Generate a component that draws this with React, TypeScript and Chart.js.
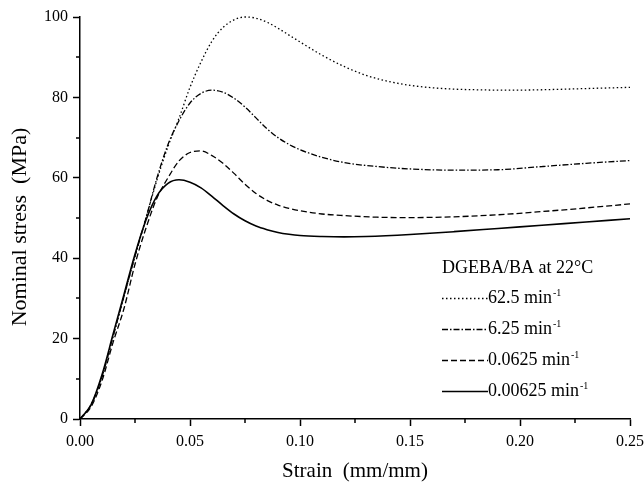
import React, { useEffect, useRef } from "react";
import { Chart, registerables } from "chart.js";

Chart.register(...registerables);

// ---- data ----
const strain62_5 = [0, 0.005, 0.01, 0.015, 0.02, 0.025, 0.03, 0.035, 0.04, 0.045, 0.05, 0.055, 0.06, 0.065, 0.07, 0.075, 0.08, 0.085, 0.09, 0.095, 0.1, 0.11, 0.12, 0.13, 0.14, 0.15, 0.165, 0.18, 0.195, 0.21, 0.23, 0.25];
const stress62_5 = [0, 3.5, 10.5, 20.5, 30.5, 40.5, 50, 59.5, 67.8, 74.8, 82.5, 88.8, 94.0, 97.4, 99.3, 100, 99.7, 98.7, 97.2, 95.5, 93.8, 90.5, 87.7, 85.5, 84.0, 83.0, 82.2, 81.9, 81.8, 81.9, 82.2, 82.5];

const strain6_25 = [0, 0.005, 0.01, 0.015, 0.02, 0.025, 0.03, 0.035, 0.04, 0.045, 0.05, 0.055, 0.06, 0.065, 0.07, 0.075, 0.08, 0.085, 0.09, 0.095, 0.1, 0.11, 0.12, 0.135, 0.15, 0.17, 0.19, 0.21, 0.23, 0.25];
const stress6_25 = [0, 3.5, 10.5, 20.5, 30.5, 40.5, 50, 60, 68.3, 74.2, 78.6, 81.0, 81.8, 81.3, 79.8, 77.6, 74.9, 72.2, 70.0, 68.3, 67.0, 65.1, 63.8, 62.8, 62.2, 61.9, 62.0, 62.8, 63.6, 64.3];

const strain0_0625 = [0, 0.005, 0.01, 0.015, 0.02, 0.025, 0.03, 0.035, 0.04, 0.045, 0.05, 0.055, 0.06, 0.065, 0.07, 0.075, 0.08, 0.085, 0.09, 0.095, 0.1, 0.11, 0.12, 0.135, 0.15, 0.17, 0.19, 0.21, 0.23, 0.25];
const stress0_0625 = [0, 3, 9.5, 19, 27.5, 38.5, 47.5, 55, 60, 64.2, 66.3, 66.7, 65.5, 63.6, 61.1, 58.4, 56.1, 54.4, 53.2, 52.4, 51.8, 51.0, 50.6, 50.2, 50.1, 50.3, 50.8, 51.6, 52.5, 53.5];

const strain0_00625 = [0, 0.005, 0.01, 0.015, 0.02, 0.025, 0.03, 0.035, 0.04, 0.045, 0.05, 0.055, 0.06, 0.065, 0.07, 0.075, 0.08, 0.085, 0.09, 0.095, 0.1, 0.11, 0.12, 0.13, 0.15, 0.17, 0.19, 0.21, 0.23, 0.25];
const stress0_00625 = [0, 3.5, 11, 21, 31, 41, 49.5, 55.5, 58.6, 59.5, 58.9, 57.5, 55.4, 53.1, 51.0, 49.3, 48.0, 47.1, 46.4, 45.95, 45.65, 45.4, 45.3, 45.4, 45.9, 46.6, 47.4, 48.2, 49.0, 49.8];

const legendTitle = "DGEBA/BA at 22°C";
const legendRates = ["62.5", "6.25", "0.0625", "0.00625"];
const xMinorTicks = [0.025, 0.075, 0.125, 0.175, 0.225];
const yMinorTicks = [10, 30, 50, 70, 90];
const xTitle = "Strain  (mm/mm)";
const yTitle = "Nominal stress  (MPa)";

const SERIF = '"Liberation Serif", "Times New Roman", serif';

const toPoints = (xs: number[], ys: number[]) => xs.map((x, i) => ({ x, y: ys[i] }));

const minorTickPlugin = {
  id: "minorTicks",
  afterDraw(chart: any) {
    const { ctx, scales, chartArea } = chart;
    ctx.save();
    ctx.strokeStyle = "#000";
    ctx.lineWidth = 1.5;
    ctx.beginPath();
    xMinorTicks.forEach((v) => {
      const px = Math.round(scales.x.getPixelForValue(v));
      ctx.moveTo(px, chartArea.bottom);
      ctx.lineTo(px, chartArea.bottom + 4);
    });
    yMinorTicks.forEach((v) => {
      const py = Math.round(scales.y.getPixelForValue(v));
      ctx.moveTo(chartArea.left - 4, py);
      ctx.lineTo(chartArea.left, py);
    });
    ctx.stroke();
    ctx.restore();
  },
};

const yTitlePlugin = {
  id: "yTitle",
  afterDraw(chart: any) {
    const { ctx, chartArea } = chart;
    ctx.save();
    ctx.fillStyle = "#000";
    ctx.font = `22px ${SERIF}`;
    ctx.textAlign = "center";
    ctx.textBaseline = "middle";
    ctx.translate(20, (chartArea.top + chartArea.bottom) / 2 + 9);
    ctx.rotate(-Math.PI / 2);
    ctx.fillText(yTitle, 0, 0);
    ctx.restore();
  },
};

const legendPlugin = {
  id: "customLegend",
  afterDraw(chart: any) {
    const ctx = chart.ctx;
    const left = 442;
    const lineEnd = 488;
    ctx.save();
    ctx.fillStyle = "#000";
    ctx.textAlign = "left";
    ctx.textBaseline = "middle";
    ctx.font = `18px ${SERIF}`;
    ctx.fillText(legendTitle, left, 268);
    chart.data.datasets.forEach((ds: any, i: number) => {
      const y = 298 + i * 31;
      ctx.beginPath();
      ctx.setLineDash(ds.borderDash || []);
      ctx.lineWidth = ds.borderWidth;
      ctx.strokeStyle = ds.borderColor;
      ctx.moveTo(left, y + 0.5);
      ctx.lineTo(lineEnd, y + 0.5);
      ctx.stroke();
      ctx.setLineDash([]);
      ctx.font = `18px ${SERIF}`;
      ctx.textBaseline = "middle";
      const label = legendRates[i] + " min";
      ctx.fillText(label, lineEnd, y);
      const w = ctx.measureText(label).width;
      ctx.font = `10px ${SERIF}`;
      ctx.textBaseline = "alphabetic";
      ctx.fillText("-1", lineEnd + w + 1, y - 2);
    });
    ctx.restore();
  },
};

export default function App() {
  const canvasRef = useRef<HTMLCanvasElement | null>(null);

  useEffect(() => {
    if (!canvasRef.current) return;
    const common = { pointRadius: 0, borderColor: "#000", fill: false, cubicInterpolationMode: "monotone" as const, clip: 6 };
    const chart = new Chart(canvasRef.current, {
      type: "line",
      data: {
        datasets: [
          { ...common, label: "62.5 min-1", data: toPoints(strain62_5, stress62_5), borderWidth: 1.3, borderDash: [1.5, 2.5] },
          { ...common, label: "6.25 min-1", data: toPoints(strain6_25, stress6_25), borderWidth: 1.3, borderDash: [6, 2, 1.5, 2] },
          { ...common, label: "0.0625 min-1", data: toPoints(strain0_0625, stress0_0625), borderWidth: 1.3, borderDash: [6, 3] },
          { ...common, label: "0.00625 min-1", data: toPoints(strain0_00625, stress0_00625), borderWidth: 1.6, borderDash: [] },
        ],
      },
      options: {
        animation: false,
        responsive: false,
        devicePixelRatio: 1,
        parsing: false as any,
        layout: { padding: { top: 17, right: 14, left: 0, bottom: 0 } },
        plugins: { legend: { display: false }, tooltip: { enabled: false } },
        scales: {
          x: {
            type: "linear",
            min: 0,
            max: 0.25,
            afterFit: (s: any) => { s.height = 68; s.paddingLeft = 0; s.paddingRight = 0; },
            border: { display: true, color: "#000", width: 1.5 },
            grid: { drawOnChartArea: false, drawTicks: true, tickLength: 7, tickColor: "#000", tickWidth: 1.5 },
            ticks: {
              stepSize: 0.05,
              color: "#000",
              padding: 6,
              maxRotation: 0,
              font: { family: SERIF, size: 16 },
              callback: (v: any) => Number(v).toFixed(2),
            },
            title: { display: true, text: xTitle, color: "#000", font: { family: SERIF, size: 21 }, padding: { top: 0, bottom: 3 } },
          },
          y: {
            type: "linear",
            min: 0,
            max: 100,
            afterFit: (s: any) => { s.width = 80; s.paddingTop = 0; s.paddingBottom = 0; },
            border: { display: true, color: "#000", width: 1.5 },
            grid: { drawOnChartArea: false, drawTicks: true, tickLength: 7, tickColor: "#000", tickWidth: 1.5 },
            ticks: { stepSize: 20, color: "#000", padding: 5, font: { family: SERIF, size: 16 } },
            title: { display: false },
          },
        },
      },
      plugins: [minorTickPlugin, yTitlePlugin, legendPlugin],
    });
    return () => chart.destroy();
  }, []);

  return (
    <div style={{ position: "fixed", left: 0, top: 0, width: 644, height: 487, background: "#fff" }}>
      <canvas ref={canvasRef} width={644} height={487} style={{ width: 644, height: 487, display: "block" }} />
    </div>
  );
}
